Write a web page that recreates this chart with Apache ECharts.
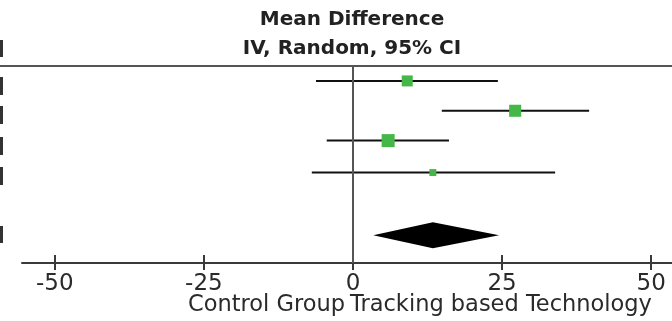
<!DOCTYPE html>
<html>
<head>
<meta charset="utf-8">
<script src="https://cdn.jsdelivr.net/npm/echarts@6/dist/echarts.min.js"></script>
<style>
  html, body { margin: 0; padding: 0; background: #fff; }
  #chart { width: 672px; height: 321px; }
</style>
</head>
<body>
<div id="chart"></div>
<script>
// study rows (position on the row axis) and their mean difference with 95% CI
const rowPos = [0, 1, 2, 3.07];
const means = [9.1, 27.2, 5.9, 13.4];
const lowers = [-6.2, 14.9, -4.4, -6.9];
const uppers = [24.3, 39.6, 16.1, 33.9];
const weights = [25, 30, 35, 10];

// pooled estimate
const totalPos = 5.17;
const totalMean = 13.4;
const totalLower = 3.4;
const totalUpper = 24.5;

const tickValues = [-50, -25, 0, 25, 50];
const FONT = 'DejaVu Sans';

const chart = echarts.init(document.getElementById('chart'));

const studies = rowPos.map((y, i) => [lowers[i], uppers[i], means[i], y, weights[i]]);

const option = {
  animation: false,
  grid: { left: 22, right: 0, top: 66, height: 197 },
  xAxis: [
    {
      type: 'value', min: -55.5, max: 53.5,
      splitLine: { show: false },
      axisLine: { show: true, onZero: false, lineStyle: { color: '#3a3a3a', width: 2 } },
      axisTick: { show: true, length: 7, customValues: tickValues, lineStyle: { color: '#3a3a3a', width: 2 } },
      axisLabel: {
        customValues: tickValues, margin: 10,
        fontFamily: FONT, fontSize: 23, color: '#2a2a2a'
      }
    },
    {
      type: 'value', min: -55.5, max: 53.5, position: 'bottom',
      splitLine: { show: false },
      axisLine: { show: false, onZero: false },
      axisTick: { show: true, inside: true, length: 8, customValues: tickValues, lineStyle: { color: '#3a3a3a', width: 2 } },
      axisLabel: { show: false }
    }
  ],
  yAxis: { type: 'value', inverse: true, min: -0.5, max: 6.1, show: false },
  series: [
    {
      type: 'custom',
      data: studies,
      renderItem: (params, api) => {
        const y = api.value(3);
        const p1 = api.coord([api.value(0), y]);
        const p2 = api.coord([api.value(1), y]);
        const pm = api.coord([api.value(2), y]);
        const s = Math.sqrt(api.value(4)) * 2.2;
        return {
          type: 'group',
          children: [
            { type: 'line', shape: { x1: p1[0], y1: p1[1], x2: p2[0], y2: p2[1] },
              style: { stroke: '#111', lineWidth: 2 } },
            { type: 'rect', shape: { x: pm[0] - s / 2, y: pm[1] - s / 2, width: s, height: s },
              style: { fill: '#45b648' } }
          ]
        };
      },
      markLine: {
        silent: true, symbol: 'none', label: { show: false },
        lineStyle: { color: '#555', width: 2, type: 'solid' },
        data: [{ xAxis: 0 }]
      },
      z: 3
    },
    {
      type: 'custom',
      data: [[totalLower, totalUpper, totalMean, totalPos]],
      renderItem: (params, api) => {
        const y = api.value(3);
        const l = api.coord([api.value(0), y]);
        const r = api.coord([api.value(1), y]);
        const m = api.coord([api.value(2), y]);
        const h = 13;
        return {
          type: 'polygon',
          shape: { points: [[l[0], l[1]], [m[0], m[1] - h], [r[0], r[1]], [m[0], m[1] + h]] },
          style: { fill: '#000' }
        };
      },
      z: 4
    }
  ],
  graphic: [
    { type: 'line', shape: { x1: 0, y1: 66, x2: 672, y2: 66 }, style: { stroke: '#555', lineWidth: 2 } },
    { type: 'text', x: 352, y: 20, style: { text: 'Mean Difference', font: 'bold 20px "DejaVu Sans"', fill: '#222', textAlign: 'center', textVerticalAlign: 'middle' } },
    { type: 'text', x: 352, y: 49, style: { text: 'IV, Random, 95% CI', font: 'bold 20px "DejaVu Sans"', fill: '#222', textAlign: 'center', textVerticalAlign: 'middle' } },
    { type: 'text', x: 345, y: 305, style: { text: 'Control Group', font: '22.5px "DejaVu Sans"', fill: '#2a2a2a', textAlign: 'right', textVerticalAlign: 'middle' } },
    { type: 'text', x: 350, y: 305, style: { text: 'Tracking based Technology', font: '22.5px "DejaVu Sans"', fill: '#2a2a2a', textAlign: 'left', textVerticalAlign: 'middle' } },
    // clipped ends of the left-hand table text
    { type: 'rect', shape: { x: 0, y: 40, width: 3, height: 17 }, style: { fill: '#333' } },
    { type: 'rect', shape: { x: 0, y: 77, width: 3, height: 18 }, style: { fill: '#333' } },
    { type: 'rect', shape: { x: 0, y: 106, width: 3, height: 18 }, style: { fill: '#333' } },
    { type: 'rect', shape: { x: 0, y: 137, width: 3, height: 18 }, style: { fill: '#333' } },
    { type: 'rect', shape: { x: 0, y: 167, width: 3, height: 18 }, style: { fill: '#333' } },
    { type: 'rect', shape: { x: 0, y: 226, width: 3, height: 17 }, style: { fill: '#333' } }
  ]
};

chart.setOption(option);
</script>
</body>
</html>
